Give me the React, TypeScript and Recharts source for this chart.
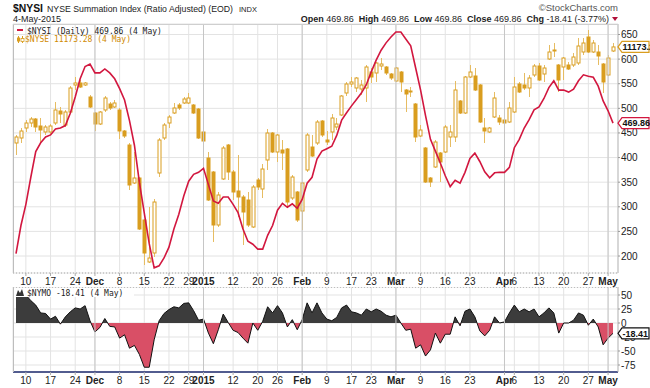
import React from 'react';
import {
  ComposedChart,
  Line,
  Bar,
  Area,
  XAxis,
  YAxis,
  CartesianGrid,
  ReferenceLine,
} from 'recharts';

// $NYSI summation index, one value per trading day (6 Nov 2014 .. 4 May 2015)
const nysi = [
  205, 262, 305, 360, 412, 430, 442, 446, 458, 460,
  465, 490, 523, 560, 585, 590, 572, 572, 580, 572,
  560, 540, 517, 475, 425, 350, 287, 225, 176, 180,
  196, 218, 255, 285, 322, 352, 366, 370, 378, 345,
  312, 307, 320, 320, 305, 288, 255, 230, 224, 214,
  214, 242, 262, 293, 307, 299, 306, 297, 315, 348,
  360, 397, 413, 418, 423, 445, 476, 491, 505, 518,
  531, 548, 574, 598, 618, 633, 645, 655, 655, 641,
  627, 582, 537, 485, 437, 413, 389, 363, 341, 354,
  348, 370, 398, 409, 392, 371, 359, 369, 370, 370,
  380, 420, 437, 460, 477, 497, 503, 520, 542, 556,
  537, 537, 533, 539, 556, 568, 565, 563, 545, 515,
  495, 469.86,
];

// $NYSE candles
const nyseOpen = [
  10789, 10809, 10849, 10869, 10885, 10857, 10833, 10833, 10869, 10917,
  10861, 10913, 11021, 11029, 11021, 10973, 10909, 10865, 10921, 10945,
  10933, 10921, 10837, 10781, 10629, 10649, 10481, 10313, 10349, 10669,
  10809, 10869, 10909, 10941, 10949, 10949, 10941, 10925, 10833, 10729,
  10673, 10461, 10645, 10781, 10673, 10597, 10573, 10561, 10453, 10641,
  10605, 10721, 10829, 10753, 10761, 10765, 10569, 10593, 10517, 10681,
  10773, 10789, 10877, 10801, 10833, 10853, 10901, 10989, 11025, 11009,
  11005, 11009, 11073, 11069, 11097, 11093, 11065, 11037, 11073, 11001,
  10993, 10945, 10817, 10769, 10649, 10693, 10749, 10753, 10813, 10813,
  10957, 10909, 11053, 11057, 11021, 10849, 10833, 10893, 10889, 10881,
  10873, 10913, 11025, 11021, 11009, 11061, 11097, 11065, 11125, 11161,
  11101, 11093, 11101, 11101, 11109, 11153, 11213, 11153, 11153, 11105,
  11061, 11157,
];
const nyseHigh = [
  10821, 10849, 10881, 10893, 10889, 10889, 10861, 10865, 10953, 10933,
  10921, 11017, 11053, 11041, 11033, 10981, 10913, 10917, 10977, 10953,
  10961, 10929, 10841, 10789, 10753, 10653, 10485, 10533, 10565, 10809,
  10869, 10901, 10949, 10949, 10973, 10989, 10945, 10929, 10841, 10753,
  10677, 10593, 10777, 10785, 10681, 10741, 10581, 10593, 10621, 10649,
  10705, 10845, 10833, 10825, 10801, 10769, 10661, 10597, 10633, 10829,
  10821, 10881, 10881, 10837, 10905, 10889, 10981, 11033, 11053, 11053,
  11041, 11101, 11089, 11113, 11129, 11097, 11069, 11093, 11077, 11005,
  11013, 10949, 10861, 10773, 10653, 10801, 10753, 10861, 10861, 11037,
  10961, 11057, 11101, 11089, 11025, 10889, 10853, 10993, 10901, 10889,
  10953, 11053, 11033, 11069, 11061, 11105, 11109, 11101, 11181, 11189,
  11105, 11133, 11113, 11149, 11209, 11209, 11241, 11201, 11181, 11109,
  11141, 11189,
];
const nyseLow = [
  10741, 10789, 10833, 10853, 10833, 10793, 10821, 10825, 10861, 10869,
  10853, 10909, 11001, 11009, 11017, 10929, 10837, 10861, 10913, 10921,
  10929, 10805, 10809, 10601, 10625, 10441, 10301, 10309, 10333, 10653,
  10801, 10849, 10905, 10921, 10945, 10945, 10905, 10805, 10733, 10557,
  10393, 10453, 10641, 10641, 10561, 10493, 10381, 10453, 10449, 10601,
  10569, 10681, 10749, 10713, 10681, 10533, 10561, 10473, 10441, 10673,
  10733, 10781, 10813, 10781, 10801, 10841, 10897, 10977, 11013, 10993,
  10981, 10953, 11029, 11033, 11081, 11061, 11041, 11033, 10993, 10913,
  10973, 10793, 10813, 10629, 10613, 10689, 10633, 10749, 10773, 10793,
  10905, 10905, 11049, 10997, 10869, 10789, 10829, 10889, 10861, 10801,
  10869, 10909, 10989, 11001, 10973, 11053, 11037, 11033, 11121, 11133,
  10993, 11041, 11081, 11093, 11101, 11141, 11149, 11149, 11101, 10989,
  11057, 11153,
];
const nyseClose = [
  10813, 10837, 10869, 10885, 10853, 10841, 10853, 10857, 10921, 10905,
  10913, 11009, 11029, 11013, 11029, 10933, 10865, 10913, 10969, 10929,
  10949, 10837, 10817, 10621, 10649, 10445, 10349, 10329, 10553, 10801,
  10861, 10893, 10929, 10929, 10965, 10969, 10909, 10809, 10797, 10561,
  10461, 10581, 10769, 10673, 10593, 10573, 10513, 10461, 10613, 10613,
  10685, 10829, 10753, 10821, 10749, 10553, 10653, 10481, 10629, 10821,
  10737, 10873, 10821, 10793, 10889, 10865, 10977, 11025, 11033, 11049,
  11021, 11093, 11053, 11109, 11105, 11069, 11049, 11089, 11033, 10985,
  10997, 10813, 10841, 10633, 10633, 10793, 10713, 10853, 10833, 11001,
  10909, 11053, 11073, 11001, 10873, 10837, 10849, 10969, 10873, 10869,
  10929, 11013, 10993, 11009, 11049, 11097, 11041, 11089, 11153, 11157,
  11041, 11129, 11085, 11133, 11177, 11189, 11153, 11189, 11137, 11033,
  11129, 11173.28,
];

// $NYMO oscillator
const nymo = [
  55, 52, 50, 40, 32, 18, 17, 7, 12, -2,
  11, 20, 27, 25, 31, 4, -16, -8, 8, -6,
  -7, -27, -21, -45, -40, -56, -79, -79, -30, 4,
  17, 24, 29, 27, 35, 36, 22, 5, 7, -18,
  -37, -12, 16, 1, -13, -17, -27, -36, 0, -13,
  3, 29, 18, 31, 18, -7, 6, -12, 6, 36,
  18, 36, 18, 7, 4, 10, 27, 32, 20, 18,
  14, 25, 20, 25, 21, 14, 11, 14, 0, -13,
  -11, -45, -39, -59, -48, -18, -36, -20, -20, 11,
  -5, 21, 25, 11, -14, -23, -13, 11, 0, 2,
  18, 32, 20, 25, 20, 25, 11, 18, 27, 18,
  -18, 0, 0, 5, 18, 14, -4, 7, -7, -39,
  -27, -18.41,
];

const tickIdx = [2, 7, 12, 16, 21, 26, 31, 35, 38, 44, 49, 53, 58, 63, 68, 72, 77, 82, 87, 92, 99, 101, 106, 111, 116, 120];
const tickLabels = ['10', '17', '24', 'Dec', '8', '15', '22', '29', '2015', '12', '20', '26', 'Feb', '9', '17', '23', 'Mar', '9', '16', '23', 'Apr', '6', '13', '20', '27', 'May'];
const monthIdx = [16, 38, 58, 77, 99, 120];
const nysiTicks = [200, 250, 300, 350, 400, 450, 500, 550, 600, 650];
const nymoTicks = [50, 25, 0, -25, -50, -75];

const FONT = '"Liberation Sans", Arial, sans-serif';
const MONO = '"DejaVu Sans Mono", monospace';
const RED = '#d2173f';
const GOLD = '#d99d1f';
const WICK = '#e6bc62';
const GRID = '#e3e3e3';
const MONTH = '#c6c6c6';

// axis domains and panel geometry (shared with the last-value tags)
const xDomain = [-0.61, 122.01];
const nysiDomain = [165.5, 671.3];
const nyseDomain = [10269, 11265];
const nymoDomain = [-87.5, 64.3];
const TOP = { y: 24, h: 249 };
const LOW = { y: 287, h: 85 };

const data = nysi.map((v, i) => ({
  i,
  nysi: v,
  open: nyseOpen[i],
  high: nyseHigh[i],
  low: nyseLow[i],
  close: nyseClose[i],
  nymo: nymo[i],
}));

const last = data.length - 1;
const nymoMax = Math.max(...nymo);
const nymoMin = Math.min(...nymo);
const split = nymoMax / (nymoMax - nymoMin);

const yIn = (v: number, dom: number[], p: { y: number; h: number }) => p.y + ((dom[1] - v) / (dom[1] - dom[0])) * p.h;

function DateTick(props: any) {
  const { x, y, payload } = props;
  const k = tickIdx.indexOf(payload.value);
  const bold = monthIdx.includes(payload.value);
  return (
    <text x={x} y={y} dy={9} textAnchor="middle" fontSize={10} fontFamily={FONT} fontWeight={bold ? 700 : 400} fill="#222">
      {tickLabels[k]}
    </text>
  );
}

function Candle(props: any) {
  const { x, y, width, height, payload } = props;
  if (!payload || height == null) return null;
  const { open, close, high, low } = payload;
  const k = height / (high - low);
  const yOf = (v: number) => y + (high - v) * k;
  const cx = Math.round(x + width / 2) + 0.5;
  const top = yOf(Math.max(open, close));
  const bot = yOf(Math.min(open, close));
  const up = close >= open;
  return (
    <g>
      <line x1={cx} x2={cx} y1={y} y2={y + height} stroke={WICK} strokeWidth={1} />
      <rect x={cx - 1.5} y={top} width={3} height={Math.max(1, bot - top)} fill={up ? '#fff' : GOLD} stroke={GOLD} strokeWidth={1} />
    </g>
  );
}

function Tag({ y, label, color }: { y: number; label: string; color: string }) {
  const x0 = 618;
  return (
    <g>
      <path
        d={`M${x0},${y} L${x0 + 4},${y - 5.5} L${x0 + 31},${y - 5.5} L${x0 + 31},${y + 5.5} L${x0 + 4},${y + 5.5} Z`}
        fill="#fff"
        stroke={color}
        strokeWidth={1.2}
      />
      <text x={x0 + 4.5} y={y + 3.3} fontSize={9} fontWeight={700} fontFamily={FONT} fill="#111">
        {label}
      </text>
    </g>
  );
}

function Overlay() {
  return (
    <svg width={650} height={388} style={{ position: 'absolute', left: 0, top: 0, pointerEvents: 'none' }}>
      <text x={13} y={12} fontSize={11} fontWeight={700} fontFamily={FONT} fill="#111" textLength={30} lengthAdjust="spacingAndGlyphs">$NYSI</text>
      <text x={47} y={12} fontSize={9} fontFamily={FONT} fill="#222" textLength={186} lengthAdjust="spacingAndGlyphs">NYSE Summation Index (Ratio Adjusted) (EOD)</text>
      <text x={239} y={12} fontSize={7.5} fontFamily={FONT} fill="#222">INDX</text>
      <text x={13} y={22} fontSize={9} fontFamily={FONT} fill="#222">4-May-2015</text>
      <text x={618} y={11} textAnchor="end" fontSize={9.5} fontFamily={FONT} fill="#555">©StockCharts.com</text>
      <text x={609} y={22} textAnchor="end" fontSize={9} fontFamily={FONT} fill="#222" style={{ whiteSpace: 'pre' }}>
        <tspan fontWeight={700}>Open</tspan>
        <tspan> 469.86  </tspan>
        <tspan fontWeight={700}>High</tspan>
        <tspan> 469.86  </tspan>
        <tspan fontWeight={700}>Low</tspan>
        <tspan> 469.86  </tspan>
        <tspan fontWeight={700}>Close</tspan>
        <tspan> 469.86  </tspan>
        <tspan fontWeight={700}>Chg</tspan>
        <tspan> -18.41 (-3.77%)</tspan>
      </text>
      <path d="M612,17 L618,17 L615,21 Z" fill="#b0103a" />

      {/* panel frames */}
      <line x1={13.5} y1={24} x2={13.5} y2={273} stroke="#bdbdbd" />
      <line x1={13} y1={24.5} x2={618} y2={24.5} stroke="#cfcfcf" />
      <line x1={13.5} y1={287} x2={13.5} y2={372} stroke="#bdbdbd" />
      <line x1={13} y1={287.5} x2={618} y2={287.5} stroke="#bdbdbd" strokeDasharray="1 2" />

      {/* price legend */}
      <rect x={17} y={29} width={6} height={2} fill={RED} />
      <text x={27} y={34} fontSize={8} fontFamily={MONO} fill="#222">$NYSI (Daily) 469.86 (4 May)</text>
      <line x1={18.5} y1={36} x2={18.5} y2={43} stroke={GOLD} />
      <rect x={17} y={37.5} width={3} height={4} fill={GOLD} />
      <line x1={22.5} y1={36} x2={22.5} y2={43} stroke={GOLD} />
      <rect x={21} y={38.5} width={3} height={3} fill="#fff" stroke={GOLD} strokeWidth={0.8} />
      <text x={25} y={42} fontSize={8} fontFamily={MONO} fill="#d08a00">$NYSE 11173.28 (4 May)</text>

      {/* oscillator legend */}
      <rect x={14} y={288} width={120} height={9} fill="#fff" />
      <path d="M16,296 L18,290 L20,293 L22,289 L24,296 Z" fill="#333" />
      <text x={27} y={296} fontSize={8} fontFamily={MONO} fill="#222">$NYMO -18.41 (4 May)</text>

      {/* last-value tags on the right scale */}
      <Tag y={yIn(nyseClose[last], nyseDomain, TOP)} label="11173.28" color={GOLD} />
      <Tag y={yIn(nysi[last], nysiDomain, TOP)} label="469.86" color={RED} />
      <Tag y={yIn(nymo[last], nymoDomain, LOW)} label="-18.41" color="#111" />
    </svg>
  );
}

export default function App() {
  return (
    <div style={{ position: 'absolute', left: 0, top: 0, width: 650, height: 388, background: '#fff', overflow: 'hidden' }}>
      <div style={{ position: 'absolute', left: 0, top: 0 }}>
        <ComposedChart width={650} height={290} data={data} margin={{ top: TOP.y, right: 0, bottom: 0, left: 13 }}>
          <CartesianGrid yAxisId="nysi" stroke={GRID} />
          {monthIdx.map((m) => (
            <ReferenceLine key={m} x={m} yAxisId="nysi" stroke={MONTH} />
          ))}
          <XAxis
            dataKey="i"
            type="number"
            domain={xDomain}
            allowDataOverflow
            ticks={tickIdx}
            interval={0}
            tick={(p: any) => <DateTick {...p} />}
            tickSize={3}
            tickMargin={0}
            tickLine={{ stroke: '#aaa' }}
            axisLine={{ stroke: '#aaa', strokeDasharray: '1 2' }}
            height={17}
          />
          <YAxis
            yAxisId="nysi"
            orientation="right"
            domain={nysiDomain}
            allowDataOverflow
            ticks={nysiTicks}
            interval={0}
            width={32}
            tickSize={2}
            tickMargin={1}
            tickLine={{ stroke: '#999' }}
            axisLine={{ stroke: '#bdbdbd' }}
            tick={{ fontSize: 10, fill: '#222', fontFamily: FONT }}
          />
          <YAxis yAxisId="nyse" hide domain={nyseDomain} allowDataOverflow />
          <Bar
            yAxisId="nyse"
            dataKey={(d: any) => [d.low, d.high]}
            barSize={5}
            shape={(p: any) => <Candle {...p} />}
            isAnimationActive={false}
          />
          <Line
            yAxisId="nysi"
            type="linear"
            dataKey="nysi"
            stroke={RED}
            strokeWidth={1.6}
            dot={false}
            activeDot={false}
            isAnimationActive={false}
          />
        </ComposedChart>
      </div>
      <div style={{ position: 'absolute', left: 0, top: LOW.y }}>
        <ComposedChart width={650} height={101} data={data} margin={{ top: 0, right: 0, bottom: 0, left: 13 }}>
          <defs>
            <linearGradient id="nymoSplit" x1="0" y1="0" x2="0" y2="1">
              <stop offset={split} stopColor="#3c3c3c" />
              <stop offset={split} stopColor="#d94f66" />
            </linearGradient>
          </defs>
          <CartesianGrid stroke={GRID} />
          {monthIdx.map((m) => (
            <ReferenceLine key={m} x={m} stroke={MONTH} />
          ))}
          <XAxis
            dataKey="i"
            type="number"
            domain={xDomain}
            allowDataOverflow
            ticks={tickIdx}
            interval={0}
            tick={(p: any) => <DateTick {...p} />}
            tickSize={3}
            tickMargin={0}
            tickLine={{ stroke: '#aaa' }}
            axisLine={{ stroke: '#1d2a6e', strokeWidth: 1.5 }}
            height={16}
          />
          <YAxis
            orientation="right"
            domain={nymoDomain}
            allowDataOverflow
            ticks={nymoTicks}
            interval={0}
            width={32}
            tickSize={2}
            tickMargin={1}
            tickLine={{ stroke: '#999' }}
            axisLine={{ stroke: '#bdbdbd' }}
            tick={{ fontSize: 10, fill: '#222', fontFamily: FONT }}
          />
          <Area
            type="linear"
            dataKey="nymo"
            baseValue={0}
            stroke="#111"
            strokeWidth={1}
            fill="url(#nymoSplit)"
            fillOpacity={1}
            dot={false}
            activeDot={false}
            isAnimationActive={false}
          />
        </ComposedChart>
      </div>
      <Overlay />
    </div>
  );
}
